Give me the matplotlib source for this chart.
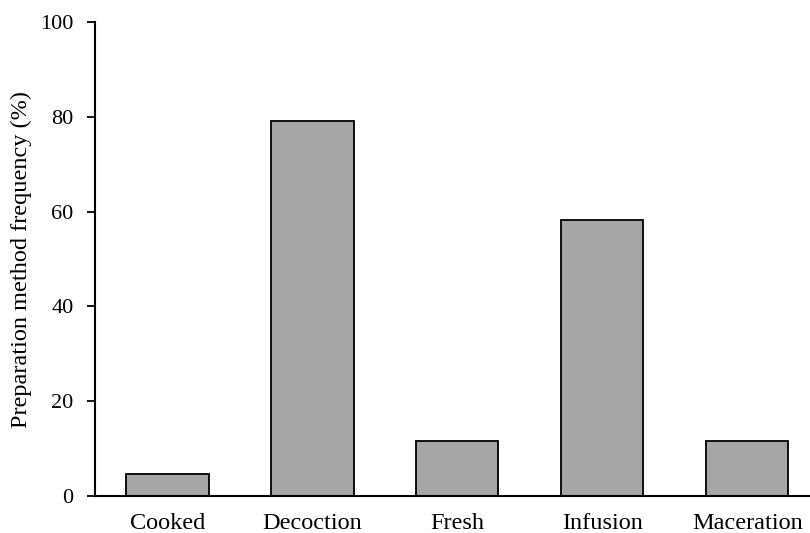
import matplotlib
matplotlib.use("Agg")
import matplotlib.pyplot as plt

categories = ["Cooked", "Decoction", "Fresh", "Infusion", "Maceration"]
values = [4.65, 79.07, 11.63, 58.14, 11.63]
yticks = [0, 20, 40, 60, 80, 100]

plt.rcParams['font.family'] = ['Liberation Serif', 'DejaVu Serif']

fig = plt.figure(figsize=(8.10, 5.33), dpi=100)
ax = fig.add_axes([95/810, 37/533, 724.7/810, 474/533])
x = list(range(len(categories)))
ax.bar(x, values, width=0.567, color='#a6a6a6', edgecolor='black', linewidth=1.3)
ax.set_xlim(-0.5, len(categories) - 0.5)
ax.set_ylim(0, 100)
ax.set_yticks(yticks)
ax.set_yticklabels([str(t) for t in yticks], fontsize=16)
ax.set_xticks(x)
ax.set_xticklabels(categories, fontsize=17.5)
ax.tick_params(axis='x', length=0, pad=12)
ax.tick_params(axis='y', direction='out', length=5.5, width=1.3, pad=10)
ax.set_ylabel("Preparation method frequency (%)", fontsize=17.5, labelpad=6)
for s in ['top', 'right']:
    ax.spines[s].set_visible(False)
for s in ['left', 'bottom']:
    ax.spines[s].set_linewidth(1.5)
fig.savefig("out.png", dpi=100)
